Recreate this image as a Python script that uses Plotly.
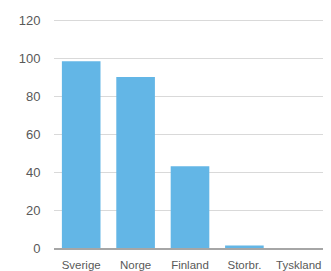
import plotly.graph_objects as go

categories = ["Sverige", "Norge", "Finland", "Storbr.", "Tyskland"]
values = [98.3, 90, 43, 1.3, 0]
y_ticks = [0, 20, 40, 60, 80, 100, 120]

fig = go.Figure(go.Bar(x=categories, y=values, marker_color="#63B6E6",
                       marker_line_width=0))
fig.update_layout(
    width=323, height=263,
    margin=dict(l=46, r=5, t=11, b=23),
    plot_bgcolor="white", paper_bgcolor="white",
    bargap=0.29, showlegend=False,
    font=dict(family="Liberation Sans, Arial", color="#595959"),
)
fig.update_yaxes(range=[0, 120.6], tickvals=y_ticks, showgrid=True,
                 gridcolor="#D9D9D9", gridwidth=1.2, zeroline=False,
                 showline=False, tickfont=dict(size=13), automargin=False,
                 ticks="outside", ticklen=10, tickcolor="rgba(0,0,0,0)")
fig.update_xaxes(showline=True, linecolor="#A6A6A6", linewidth=1.8,
                 tickfont=dict(size=11.5), ticks="outside", ticklen=5,
                 automargin=False, tickcolor="rgba(0,0,0,0)",
                 ticklabeloverflow="allow")
fig.write_html("out.html")
